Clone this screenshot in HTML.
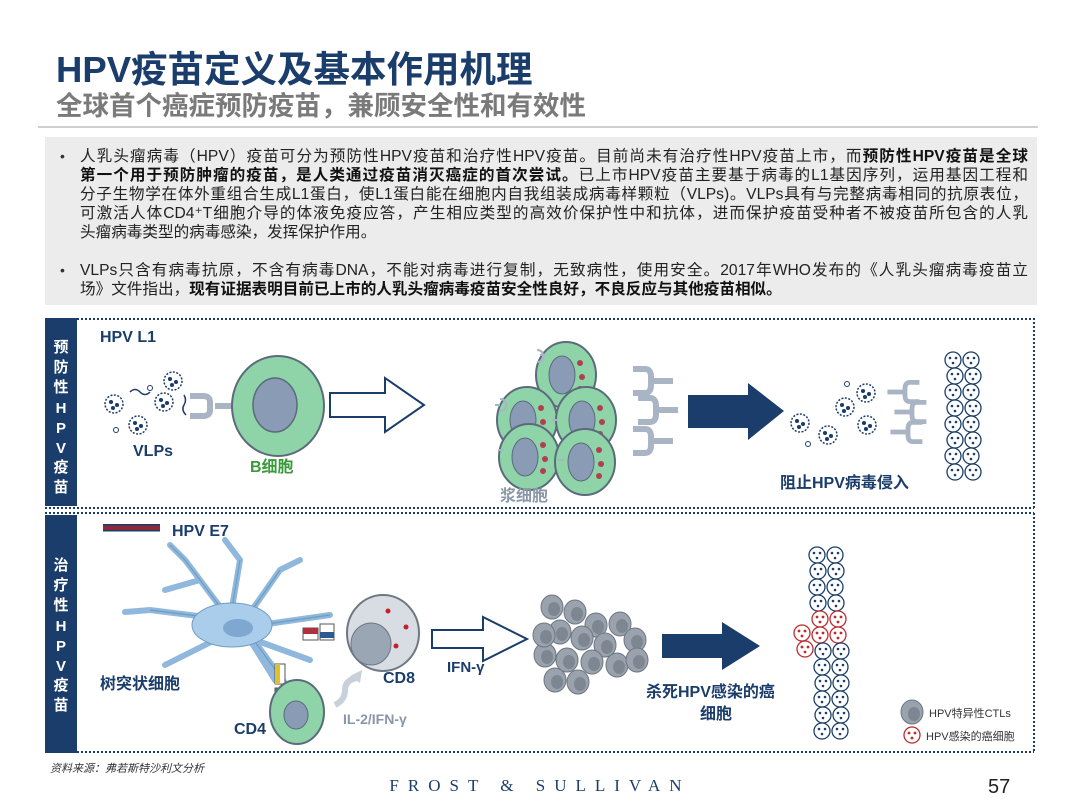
<!DOCTYPE html>
<html><head><meta charset="utf-8"><style>
body{margin:0;width:1080px;height:810px;background:#fff;position:relative;overflow:hidden;font-family:"Liberation Sans","Noto Sans CJK SC",sans-serif}
.a{position:absolute}
.t1{left:56px;top:40px;font-size:36.5px;font-weight:bold;color:#1b3d6b;white-space:nowrap}
.t2{left:56px;top:84px;font-size:26.5px;font-weight:bold;color:#7a7a7a;white-space:nowrap}
.box{left:45px;top:137px;width:992px;height:168px;background:#ececec}
.l{position:absolute;left:80px;width:948px;font-size:15.6px;line-height:19px;color:#222;white-space:nowrap;text-align:justify;text-align-last:justify}
.l.n{text-align-last:left}
.l b{color:#111}
.bl{position:absolute;left:60px;font-size:14px;color:#333}
</style></head><body>
<div class="a t1">HPV疫苗定义及基本作用机理</div>
<div class="a t2">全球首个癌症预防疫苗，兼顾安全性和有效性</div>
<div class="a" style="left:38px;top:126px;width:1000px;height:2px;background:#d0d0d0"></div>
<div class="a box"></div>
<div class="bl" style="top:148px">•</div>
<div class="l" style="top:147px">人乳头瘤病毒（HPV）疫苗可分为预防性HPV疫苗和治疗性HPV疫苗。目前尚未有治疗性HPV疫苗上市，而<b>预防性HPV疫苗是全球</b></div>
<div class="l" style="top:166px"><b>第一个用于预防肿瘤的疫苗，是人类通过疫苗消灭癌症的首次尝试。</b>已上市HPV疫苗主要基于病毒的L1基因序列，运用基因工程和</div>
<div class="l" style="top:185px">分子生物学在体外重组合生成L1蛋白，使L1蛋白能在细胞内自我组装成病毒样颗粒（VLPs)。VLPs具有与完整病毒相同的抗原表位，</div>
<div class="l" style="top:204px">可激活人体CD4⁺T细胞介导的体液免疫应答，产生相应类型的高效价保护性中和抗体，进而保护疫苗受种者不被疫苗所包含的人乳</div>
<div class="l n" style="top:223px">头瘤病毒类型的病毒感染，发挥保护作用。</div>
<div class="bl" style="top:262px">•</div>
<div class="l" style="top:261px">VLPs只含有病毒抗原，不含有病毒DNA，不能对病毒进行复制，无致病性，使用安全。2017年WHO发布的《人乳头瘤病毒疫苗立</div>
<div class="l n" style="top:280px">场》文件指出，<b>现有证据表明目前已上市的人乳头瘤病毒疫苗安全性良好，不良反应与其他疫苗相似。</b></div>

<svg class="a" style="left:0;top:0" width="1080" height="810" font-family="Liberation Sans, Noto Sans CJK SC, sans-serif">
<defs>
<g id="cell"><circle r="8" fill="#fff" stroke="#1b3d6b" stroke-width="1.3"/><circle cx="-3" cy="-2" r="1.3" fill="#1b3d6b"/><circle cx="3" cy="-2" r="1.3" fill="#1b3d6b"/><circle cx="0" cy="3" r="1.3" fill="#1b3d6b"/></g>
<g id="rcell"><circle r="8" fill="#fff" stroke="#c0282d" stroke-width="1.3"/><circle cx="-3" cy="-2" r="1.4" fill="#c0282d"/><circle cx="3" cy="-2" r="1.4" fill="#c0282d"/><circle cx="0" cy="3" r="1.4" fill="#c0282d"/></g>
<g id="gcell"><ellipse rx="11" ry="12" fill="#9aa3ad" stroke="#6e7782"/><ellipse cx="2" cy="2" rx="6" ry="7" fill="#7d8691"/></g>
<g id="pc"><ellipse rx="30" ry="33" fill="#8fd4a8" stroke="#5a6b7b" stroke-width="2"/><ellipse cx="-4" cy="0" rx="13" ry="19" fill="#8a9bb5" stroke="#5a6b7b"/><circle cx="14" cy="-12" r="3" fill="#b04050"/><circle cx="16" cy="2" r="3" fill="#b04050"/><circle cx="14" cy="14" r="3" fill="#b04050"/></g>
<g id="ab" fill="none" stroke="#a9b4c4" stroke-width="6"><path d="M-22 0H0M18 -12H6Q0 -12 0 -4V4Q0 12 6 12H18"/></g>
<g id="vir" fill="#fff" stroke="#1b3d6b" stroke-width="1.5"><circle r="9" stroke-dasharray="2 1.5"/><circle cx="-3" cy="-2" r="1.3" fill="#1b3d6b"/><circle cx="3" cy="1" r="1.3" fill="#1b3d6b"/><circle cx="-1" cy="4" r="1.3" fill="#1b3d6b"/></g>
</defs>
<rect x="45" y="318" width="32" height="188" fill="#1b3d6b"/>
<rect x="45" y="515" width="32" height="238" fill="#1b3d6b"/>
<g stroke="#1b3d6b" stroke-width="2" stroke-dasharray="2 2" fill="none">
<path d="M77 319H1034V508M45 508H1034M45 513H1034M1034 513V752M45 752H1034"/>
</g>
<g fill="#fff" font-size="15" font-weight="bold" text-anchor="middle">
<text x="61" y="352">预</text><text x="61" y="372">防</text><text x="61" y="392">性</text><text x="61" y="413">H</text><text x="61" y="433">P</text><text x="61" y="453">V</text><text x="61" y="472">疫</text><text x="61" y="492">苗</text>
<text x="61" y="570">治</text><text x="61" y="590">疗</text><text x="61" y="610">性</text><text x="61" y="631">H</text><text x="61" y="651">P</text><text x="61" y="671">V</text><text x="61" y="690">疫</text><text x="61" y="710">苗</text>
</g>
<text x="100" y="342" font-size="16" font-weight="bold" fill="#1b3d6b">HPV   L1</text>
<use href="#vir" x="114" y="404"/><use href="#vir" x="138" y="425"/><use href="#vir" x="164" y="402"/><use href="#vir" x="173" y="381"/>
<circle cx="150" cy="388" r="2.5" fill="none" stroke="#1b3d6b"/><circle cx="116" cy="430" r="2.5" fill="none" stroke="#1b3d6b"/>
<path d="M130 392q5-5 10 0t10 0M184 395q3 5 0 10t2 10" fill="none" stroke="#1b3d6b" stroke-width="1.5"/>
<text x="133" y="456" font-size="16" font-weight="bold" fill="#1b3d6b">VLPs</text>
<g fill="none" stroke="#a9b4c4" stroke-width="6"><path d="M232 406H215M190 396H203Q210 396 210 402V410Q210 416 203 416H190"/></g>
<ellipse cx="278" cy="406" rx="46" ry="50" fill="#8fd4a8" stroke="#5a6b7b" stroke-width="2"/>
<ellipse cx="275" cy="405" rx="22" ry="27" fill="#8a9bb5" stroke="#5a6b7b" stroke-width="1.5"/>
<text x="250" y="472" font-size="16" font-weight="bold" fill="#3a9a3a">B细胞</text>
<path d="M330 393H385V378L424 405L385 432V417H330Z" fill="#fff" stroke="#1b3d6b" stroke-width="2"/>
<use href="#pc" x="566" y="375"/><use href="#pc" x="527" y="420"/><use href="#pc" x="586" y="420"/><use href="#pc" x="529" y="457"/><use href="#pc" x="585" y="462"/>
<g fill="none" stroke="#a9b4c4" stroke-width="2"><path d="M495 405h5m0-6q6 0 6 6t-6 6M545 355h-5m-3 -5q6 0 6 6t-6 6M552 420h5M498 450h6M558 460h6"/></g>
<g transform="translate(651,381) scale(-1,1)"><use href="#ab"/></g>
<g transform="translate(656,410) scale(-1,1)"><use href="#ab"/></g>
<g transform="translate(651,441) scale(-1,1)"><use href="#ab"/></g>
<path d="M688 395H748V383L784 411L748 440V428H688Z" fill="#1b3d6b"/>
<use href="#vir" x="800" y="423"/><use href="#vir" x="828" y="435"/><use href="#vir" x="845" y="407"/><use href="#vir" x="867" y="425"/><use href="#vir" x="866" y="393"/>
<circle cx="847" cy="384" r="2.5" fill="none" stroke="#1b3d6b"/><circle cx="808" cy="444" r="2.5" fill="none" stroke="#1b3d6b"/>
<g transform="translate(905,392) scale(0.8)"><use href="#ab"/></g>
<g transform="translate(912,412) scale(0.8)"><use href="#ab"/></g>
<g transform="translate(908,432) scale(0.8)"><use href="#ab"/></g>
<g>
<use href="#cell" x="953" y="360"/><use href="#cell" x="971" y="360"/><use href="#cell" x="955" y="376"/><use href="#cell" x="973" y="376"/><use href="#cell" x="953" y="392"/><use href="#cell" x="971" y="392"/><use href="#cell" x="955" y="408"/><use href="#cell" x="973" y="408"/><use href="#cell" x="953" y="424"/><use href="#cell" x="971" y="424"/><use href="#cell" x="955" y="440"/><use href="#cell" x="973" y="440"/><use href="#cell" x="953" y="456"/><use href="#cell" x="971" y="456"/><use href="#cell" x="955" y="472"/><use href="#cell" x="973" y="472"/>
</g>
<text x="780" y="488" font-size="16" font-weight="bold" fill="#1b3d6b">阻止HPV病毒侵入</text>
<text x="500" y="501" font-size="16" font-weight="bold" fill="#8a97a8">浆细胞</text>
<rect x="103" y="525" width="57" height="5" fill="#8a2a3a"/><rect x="103" y="524" width="57" height="1.5" fill="#1b3d6b"/><rect x="103" y="530" width="57" height="1.5" fill="#1b3d6b"/>
<text x="172" y="536" font-size="16" font-weight="bold" fill="#1b3d6b">HPV E7</text>
<g fill="none" stroke="#8fb8dc" stroke-width="6" stroke-linecap="round">
<path d="M230 620L185 560L170 545M200 580L165 590M230 620L150 610L125 612M215 640L165 665M230 620L240 560L225 540M245 620L280 570L300 560M260 625L330 615M250 635L290 690M255 640L310 660M250 640L275 680"/>
</g>
<g fill="none" stroke="#6f9cc4" stroke-width="1.2">
<path d="M230 620L185 560L170 545M230 620L150 610M230 620L240 560M245 620L280 570M260 625L330 615M250 635L290 690"/>
</g>
<ellipse cx="232" cy="625" rx="40" ry="22" fill="#a9cdea" stroke="#6f9cc4"/>
<ellipse cx="238" cy="628" rx="15" ry="9" fill="#7ea8d0"/>
<rect x="303" y="628" width="15" height="12" fill="#fff" stroke="#555"/><rect x="303" y="628" width="15" height="6" fill="#b03040"/>
<rect x="320" y="624" width="14" height="16" fill="#fff" stroke="#555"/><rect x="320" y="632" width="14" height="6" fill="#2a5a90"/>
<ellipse cx="383" cy="633" rx="36" ry="38" fill="#d8dde3" stroke="#6e7782" stroke-width="2"/>
<ellipse cx="371" cy="644" rx="20" ry="21" fill="#9aa6b4" stroke="#6e7782"/>
<circle cx="388" cy="611" r="2.5" fill="#c02030"/><circle cx="406" cy="627" r="2.5" fill="#c02030"/><circle cx="396" cy="646" r="2.5" fill="#c02030"/>
<text x="383" y="683" font-size="16" font-weight="bold" fill="#1b3d6b">CD8</text>
<rect x="275" y="664" width="10" height="20" fill="#fff" stroke="#555"/><rect x="275" y="664" width="5" height="20" fill="#e0c030"/>
<rect x="275" y="688" width="10" height="16" fill="#2a9a60" stroke="#555"/>
<ellipse cx="297" cy="712" rx="27" ry="32" fill="#8fd4a8" stroke="#5a6b7b" stroke-width="2"/>
<ellipse cx="296" cy="715" rx="12" ry="14" fill="#8a9bb5" stroke="#5a6b7b"/>
<text x="234" y="734" font-size="16" font-weight="bold" fill="#1b3d6b">CD4</text>
<text x="100" y="689" font-size="16" font-weight="bold" fill="#1b3d6b">树突状细胞</text>
<path d="M335 705q10-5 10-15t12-12" fill="none" stroke="#c8d0da" stroke-width="6"/><path d="M350 676l12-6-2 13z" fill="#c8d0da"/>
<text x="343" y="724" font-size="14" font-weight="bold" fill="#8a97a8">IL-2/IFN-γ</text>
<path d="M432 630H483V617L527 639L483 661V648H432Z" fill="#fff" stroke="#1b3d6b" stroke-width="2"/>
<text x="447" y="672" font-size="15" font-weight="bold" fill="#1b3d6b">IFN-γ</text>
<use href="#gcell" x="552" y="607"/><use href="#gcell" x="575" y="612"/><use href="#gcell" x="596" y="625"/><use href="#gcell" x="620" y="624"/><use href="#gcell" x="560" y="632"/><use href="#gcell" x="582" y="638"/><use href="#gcell" x="605" y="645"/><use href="#gcell" x="635" y="640"/><use href="#gcell" x="545" y="655"/><use href="#gcell" x="567" y="660"/><use href="#gcell" x="592" y="662"/><use href="#gcell" x="617" y="665"/><use href="#gcell" x="555" y="680"/><use href="#gcell" x="578" y="682"/><use href="#gcell" x="637" y="660"/><use href="#gcell" x="544" y="635"/>
<path d="M662 634H722V622L760 646L722 670V658H662Z" fill="#1b3d6b"/>
<text x="646" y="697" font-size="16" font-weight="bold" fill="#1b3d6b">杀死HPV感染的癌</text>
<text x="700" y="719" font-size="16" font-weight="bold" fill="#1b3d6b">细胞</text>
<g>
<use href="#cell" x="817" y="555"/><use href="#cell" x="835" y="555"/><use href="#cell" x="818" y="571"/><use href="#cell" x="836" y="571"/><use href="#cell" x="817" y="587"/><use href="#cell" x="835" y="587"/><use href="#cell" x="818" y="603"/><use href="#cell" x="836" y="603"/>
<use href="#rcell" x="820" y="619"/><use href="#rcell" x="838" y="619"/><use href="#rcell" x="802" y="633"/><use href="#rcell" x="820" y="635"/><use href="#rcell" x="838" y="635"/><use href="#rcell" x="805" y="649"/>
<use href="#cell" x="823" y="651"/><use href="#cell" x="841" y="651"/><use href="#cell" x="822" y="667"/><use href="#cell" x="840" y="667"/><use href="#cell" x="823" y="683"/><use href="#cell" x="841" y="683"/><use href="#cell" x="822" y="699"/><use href="#cell" x="840" y="699"/><use href="#cell" x="823" y="715"/><use href="#cell" x="841" y="715"/><use href="#cell" x="822" y="731"/><use href="#cell" x="840" y="731"/>
</g>
<use href="#gcell" x="912" y="712"/>
<text x="929" y="717" font-size="11" fill="#333">HPV特异性CTLs</text>
<use href="#rcell" x="912" y="735"/>
<text x="926" y="740" font-size="11" fill="#333">HPV感染的癌细胞</text>
<text x="50" y="772" font-size="11" font-style="italic" fill="#333">资料来源：弗若斯特沙利文分析</text>
<text x="540" y="791" font-size="17" text-anchor="middle" font-family="Liberation Serif, serif" fill="#1b3d6b" letter-spacing="9">FROST &amp; SULLIVAN</text>
<text x="988" y="793" font-size="20" fill="#222">57</text>
</svg>
</body></html>
